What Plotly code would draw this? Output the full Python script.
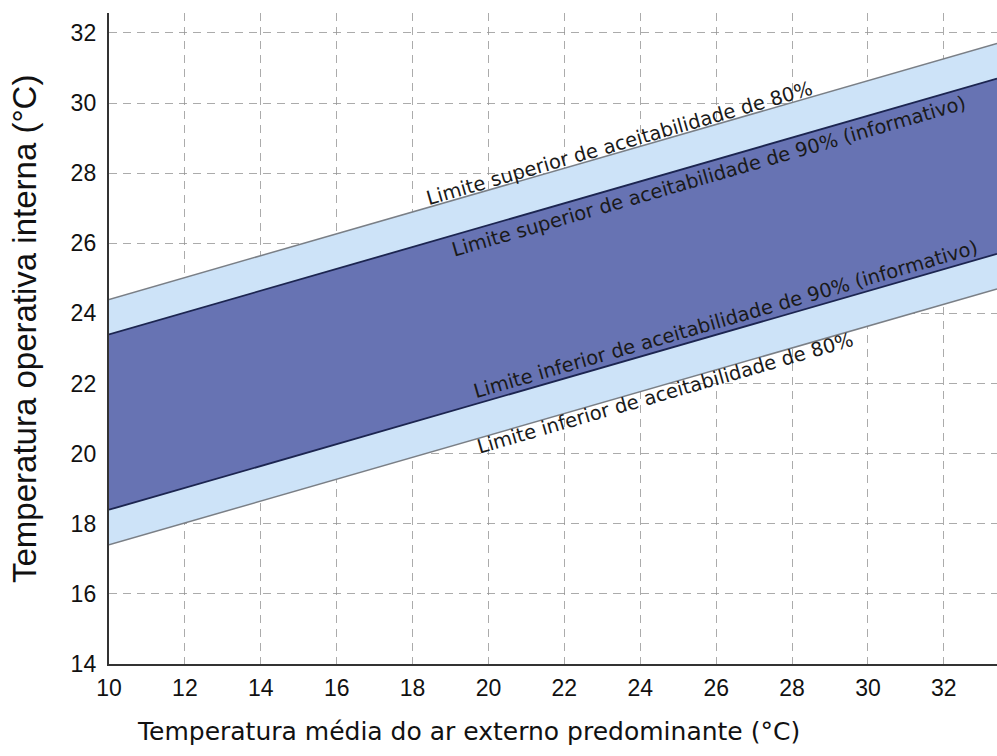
import plotly.graph_objects as go

# Data
x_ext = [10, 33.4]
upper80 = [24.4, 31.7]
upper90 = [23.4, 30.7]
lower90 = [18.4, 25.7]
lower80 = [17.4, 24.7]

x_ticks = [10, 12, 14, 16, 18, 20, 22, 24, 26, 28, 30, 32]
y_ticks = [14, 16, 18, 20, 22, 24, 26, 28, 30, 32]

labels = [
    "Limite superior de aceitabilidade de 80%",
    "Limite superior de aceitabilidade de 90% (informativo)",
    "Limite inferior de aceitabilidade de 90% (informativo)",
    "Limite inferior de aceitabilidade de 80%",
]
label_x = [23.45, 25.8, 26.25, 24.64]
label_y = [28.86, 27.9, 23.82, 21.72]

LIGHT = "#cde3f8"
DARK = "#6773b3"
GRAYLINE = "#7a7f86"
NAVY = "#1c2550"

fig = go.Figure()
# light 80% band
fig.add_trace(go.Scatter(x=x_ext, y=lower80, mode="lines",
                         line=dict(color=GRAYLINE, width=1.5), hoverinfo="skip", showlegend=False))
fig.add_trace(go.Scatter(x=x_ext, y=upper80, mode="lines", fill="tonexty", fillcolor=LIGHT,
                         line=dict(color=GRAYLINE, width=1.5), hoverinfo="skip", showlegend=False))
# dark 90% band
fig.add_trace(go.Scatter(x=x_ext, y=lower90, mode="lines",
                         line=dict(color=NAVY, width=1.8), hoverinfo="skip", showlegend=False))
fig.add_trace(go.Scatter(x=x_ext, y=upper90, mode="lines", fill="tonexty", fillcolor=DARK,
                         line=dict(color=NAVY, width=1.8), hoverinfo="skip", showlegend=False))

for t, xx, yy in zip(labels, label_x, label_y):
    fig.add_annotation(x=xx, y=yy, xref="x", yref="y", text=t, showarrow=False,
                       textangle=-16.1, font=dict(family="DejaVu Sans", size=19.5, color="#1a1a1a"))

fig.add_annotation(xref="paper", yref="paper", x=0.4043, y=-0.103,
                   text="Temperatura média do ar externo predominante (°C)",
                   showarrow=False, xanchor="center", yanchor="middle",
                   font=dict(family="DejaVu Sans", size=25, color="#111"))
fig.add_annotation(xref="paper", yref="paper", x=-0.0946, y=0.5146,
                   text="Temperatura operativa interna (°C)",
                   showarrow=False, xanchor="center", yanchor="middle", textangle=-90,
                   font=dict(family="Liberation Sans, Arial", size=33, color="#111"))

grid = dict(showgrid=True, gridcolor="rgba(150,150,150,0.8)", gridwidth=1.4, griddash="8px,6px",
            zeroline=False, showline=True, linecolor="#333", linewidth=2.4, ticks="",
            layer="above traces",
            tickfont=dict(family="Liberation Sans, Arial", size=23, color="#111"))

fig.update_xaxes(range=[10, 33.4], tickvals=x_ticks, ticktext=[str(v) for v in x_ticks],
                 ticklabelstandoff=2, **grid)
fig.update_yaxes(range=[14, 32.57], tickvals=y_ticks, ticktext=[str(v) for v in y_ticks],
                 ticklabelstandoff=6, **grid)

fig.update_layout(width=997, height=756, plot_bgcolor="white", paper_bgcolor="white",
                  margin=dict(l=109, r=0, t=13, b=92), showlegend=False)

fig.write_html("out.html", config={"displayModeBar": False},
               post_script="document.body.style.margin='0';")
